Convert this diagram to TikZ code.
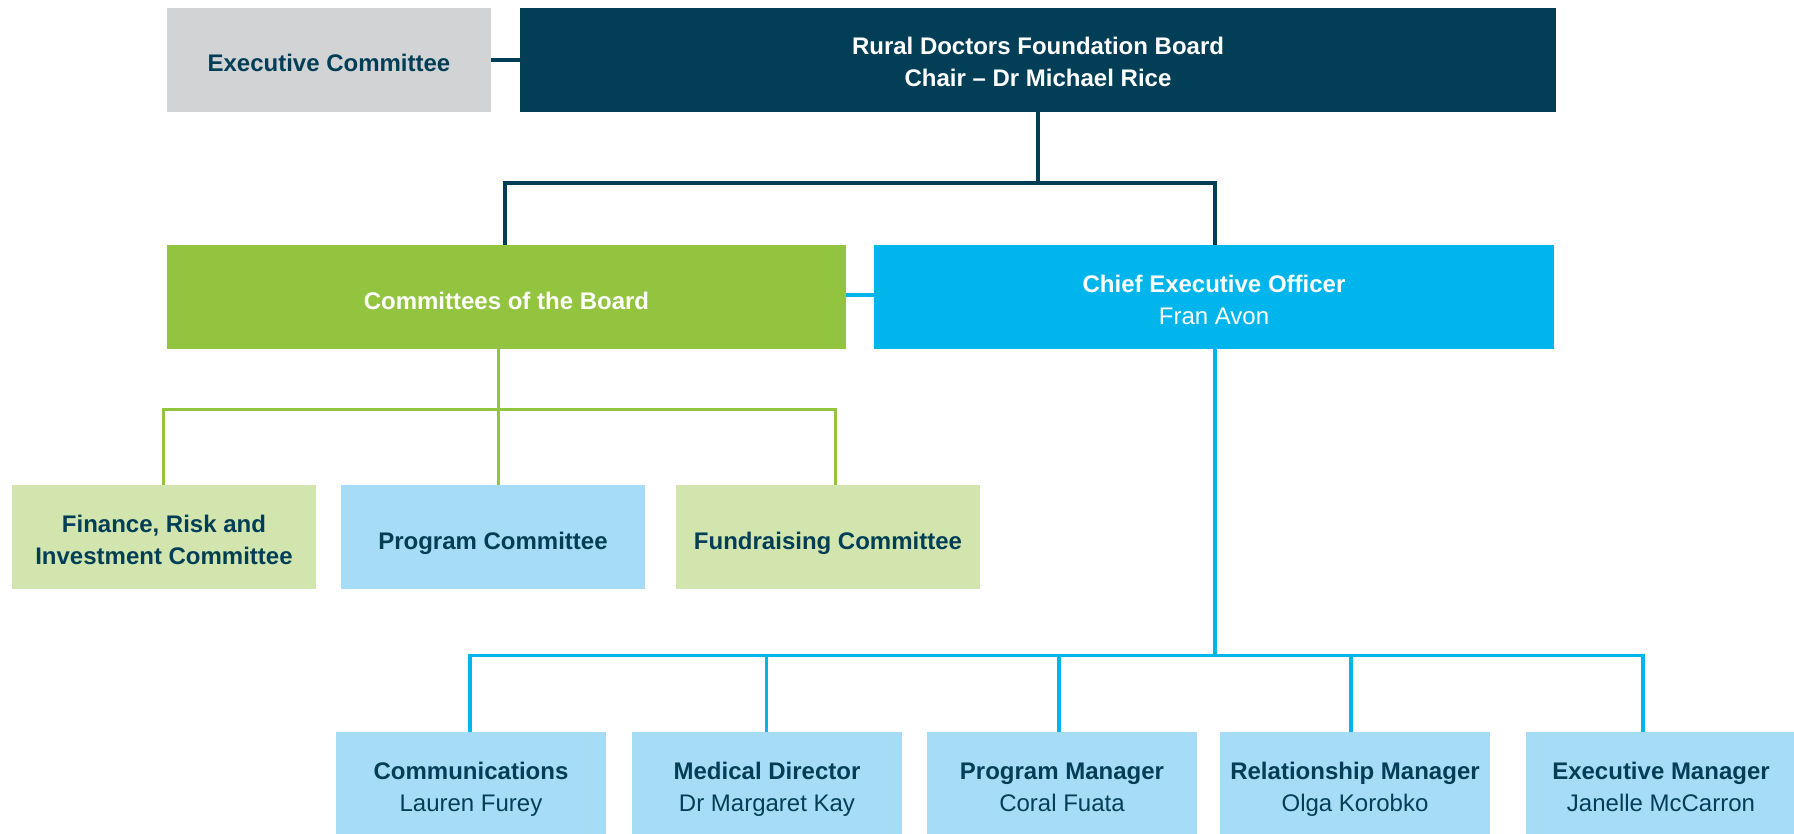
\documentclass[tikz,border=0pt]{standalone}
\usepackage{fontspec}
\setmainfont{Liberation Sans}
\definecolor{navy}{HTML}{023F57}
\definecolor{greyb}{HTML}{D1D3D4}
\definecolor{greenb}{HTML}{92C43F}
\definecolor{blueb}{HTML}{00B5EC}
\definecolor{lgreen}{HTML}{D2E5AF}
\definecolor{lblue}{HTML}{A6DCF6}
\tikzset{
  box/.style={rectangle, inner sep=0pt, outer sep=0pt, minimum height=104pt, align=center,
    font=\fontsize{24}{32}\selectfont, text=navy, text height=30pt, text depth=6pt},
  twoline/.style={text height=60pt, text depth=6pt},
  darkbox/.style={box, text=white},
  navyline/.style={draw=navy, line width=3.5pt},
  greenline/.style={draw=greenb, line width=3pt},
  blueline/.style={draw=blueb, line width=3.5pt},
}
\begin{document}
\begin{tikzpicture}[x=1pt,y=-1pt]
\useasboundingbox (0,0) rectangle (1794,834);
% top row
\node[box, fill=greyb, minimum width=324pt] (exec) at (329,60) {\bfseries Executive Committee};
\node[darkbox, twoline, fill=navy, minimum width=1036pt] (board) at (1038,60) {\bfseries Rural Doctors Foundation Board\\\bfseries Chair – Dr Michael Rice};
% second row
\node[darkbox, fill=greenb, minimum width=679pt] (comm) at (506.5,297) {\bfseries Committees of the Board};
\node[darkbox, twoline, fill=blueb, minimum width=680pt] (ceo) at (1214,297) {\bfseries Chief Executive Officer\\Fran Avon};
% committees
\node[box, twoline, fill=lgreen, minimum width=304pt] (fin) at (164,537) {\bfseries Finance, Risk and\\\bfseries Investment Committee};
\node[box, fill=lblue, minimum width=304pt] (progc) at (493,537) {\bfseries Program Committee};
\node[box, fill=lgreen, minimum width=304pt] (fund) at (828,537) {\bfseries Fundraising Committee};
% staff
\node[box, twoline, fill=lblue, minimum width=270pt] (comms) at (471,784) {\bfseries Communications\\Lauren Furey};
\node[box, twoline, fill=lblue, minimum width=270pt] (med) at (767,784) {\bfseries Medical Director\\Dr Margaret Kay};
\node[box, twoline, fill=lblue, minimum width=270pt] (pm) at (1062,784) {\bfseries Program Manager\\Coral Fuata};
\node[box, twoline, fill=lblue, minimum width=270pt] (rm) at (1355,784) {\bfseries Relationship Manager\\Olga Korobko};
\node[box, twoline, fill=lblue, minimum width=270pt] (em) at (1661,784) {\bfseries Executive Manager\\Janelle McCarron};
% connectors: board
\draw[navyline] (exec.east) -- (board.west);
\coordinate (bj) at (1038,183);
\draw[navyline] (board.south) -- (bj);
\draw[navyline] (bj) -| ([xshift=-1.5pt]comm.north);
\draw[navyline] (bj) -| ([xshift=1pt]ceo.north);
\draw[blueline] ([yshift=2pt]comm.east) -- ([yshift=2pt]ceo.west);
% connectors: committees
\coordinate (gj) at (498,409);
\draw[greenline] (comm.south -| gj) -- (gj);
\draw[greenline] (gj) -| ([xshift=-1pt]fin.north);
\draw[greenline] (gj) -| ([xshift=7pt]fund.north);
\draw[greenline] (gj) -- (progc.north -| gj);
% connectors: staff
\coordinate (cj) at (1215,655.5);
\draw[blueline] (ceo.south -| cj) -- (cj);
\draw[blueline] (cj) -| ([xshift=-1pt]comms.north);
\draw[blueline] (cj) -| ([xshift=-18pt]em.north);
\draw[blueline, line width=3pt] ([xshift=-1pt]med.north) -- ([xshift=-1pt]med.north |- cj);
\draw[blueline] ([xshift=-3pt]pm.north) -- ([xshift=-3pt]pm.north |- cj);
\draw[blueline] ([xshift=-4pt]rm.north) -- ([xshift=-4pt]rm.north |- cj);
\end{tikzpicture}
\end{document}
